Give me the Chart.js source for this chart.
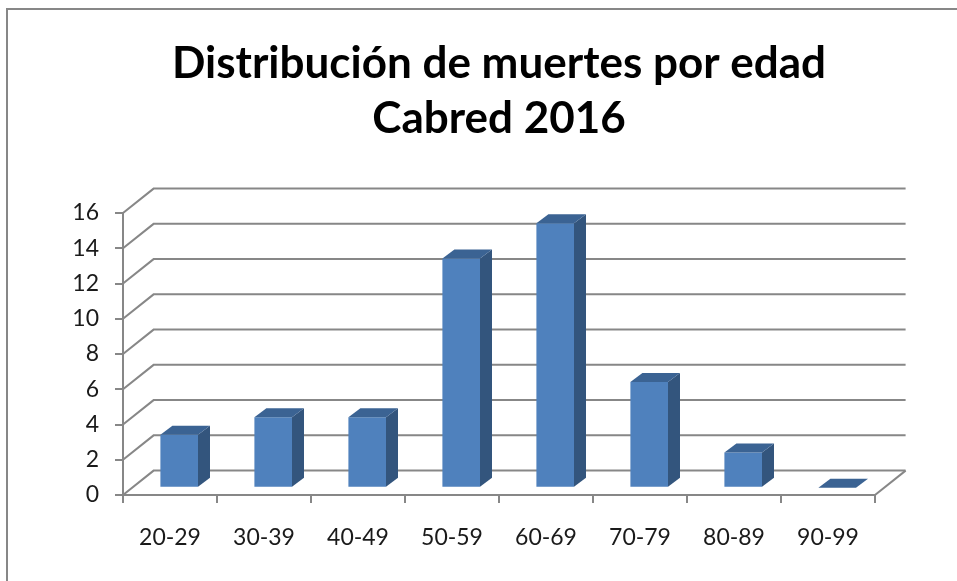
<!DOCTYPE html>
<html>
<head>
<meta charset="utf-8">
<script src="https://cdn.jsdelivr.net/npm/chart.js@4/dist/chart.umd.min.js"></script>
<style>
  body { margin: 0; background: #fff; }
  #wrap { width: 957px; height: 581px; }
</style>
</head>
<body>
<div id="wrap"><canvas id="muertes" width="957" height="581"></canvas></div>
<script>
// data
var edades = ['20-29', '30-39', '40-49', '50-59', '60-69', '70-79', '80-89', '90-99'];
var muertes = [3, 4, 4, 13, 15, 6, 2, 0];
var titulo = ['Distribución de muertes por edad', 'Cabred 2016'];
var yMax = 16;
var yPaso = 2;

// 3d look: depth of the walls and of the bars
var fondo = { x: 30.6, y: -24.4 };
var frente = { x: 9.2, y: -7.3 };
var prof = { x: 12, y: -9 };
var gris = '#878787';

var tresD = {
	id: 'tresD',
	beforeDraw: function(chart) {
		var ctx = chart.ctx;
		ctx.save();
		ctx.fillStyle = '#fff';
		ctx.fillRect(0, 0, chart.width, chart.height);
		ctx.strokeStyle = gris;
		ctx.lineWidth = 2;
		ctx.strokeRect(7, 9, 1200, 1200);
		ctx.restore();
	},
	beforeDatasetsDraw: function(chart) {
		var ctx = chart.ctx;
		var a = chart.chartArea;
		var y = chart.scales.y;
		ctx.save();
		ctx.strokeStyle = gris;
		ctx.lineWidth = 2;
		// side wall + back wall grid lines
		for (var v = 0; v <= yMax; v += yPaso) {
			var py = y.getPixelForValue(v);
			ctx.beginPath();
			ctx.moveTo(a.left, py);
			ctx.lineTo(a.left + fondo.x, py + fondo.y);
			ctx.lineTo(a.right + fondo.x, py + fondo.y);
			ctx.stroke();
		}
		// right edge of the floor
		var p0 = y.getPixelForValue(0);
		ctx.beginPath();
		ctx.moveTo(a.right, p0);
		ctx.lineTo(a.right + fondo.x, p0 + fondo.y);
		ctx.stroke();
		ctx.restore();

		// bars sit a bit behind the front plane
		ctx.save();
		ctx.translate(frente.x, frente.y);
	},
	afterDatasetsDraw: function(chart) {
		var ctx = chart.ctx;
		var meta = chart.getDatasetMeta(0);
		meta.data.forEach(function(bar) {
			var p = bar.getProps(['x', 'y', 'base', 'width'], true);
			var l = p.x - p.width / 2;
			var r = p.x + p.width / 2;
			// side
			ctx.fillStyle = '#33557d';
			ctx.beginPath();
			ctx.moveTo(r, p.y);
			ctx.lineTo(r + prof.x, p.y + prof.y);
			ctx.lineTo(r + prof.x, p.base + prof.y);
			ctx.lineTo(r, p.base);
			ctx.closePath();
			ctx.fill();
			// top
			ctx.fillStyle = '#3b6393';
			ctx.beginPath();
			ctx.moveTo(l, p.y);
			ctx.lineTo(l + prof.x, p.y + prof.y);
			ctx.lineTo(r + prof.x, p.y + prof.y);
			ctx.lineTo(r, p.y);
			ctx.closePath();
			ctx.fill();
		});
		ctx.restore();
	}
};

Chart.defaults.font.family = 'Lato';
Chart.defaults.color = '#1a1a1a';

var ctx = document.getElementById('muertes').getContext('2d');
var chart = new Chart(ctx, {
	type: 'bar',
	data: {
		labels: edades,
		datasets: [{
			data: muertes,
			backgroundColor: '#4f81bd',
			borderWidth: 0,
			categoryPercentage: 1,
			barPercentage: 0.4,
			clip: false
		}]
	},
	options: {
		responsive: false,
		devicePixelRatio: 1,
		animation: false,
		layout: { padding: { left: 0, right: 82, top: 0, bottom: 0 } },
		plugins: {
			legend: { display: false },
			tooltip: { enabled: false },
			title: {
				display: true,
				fullSize: false,
				text: titulo,
				color: '#000',
				font: { size: 44, weight: 'bold', lineHeight: 1.25 },
				padding: { top: 36, bottom: 67 }
			}
		},
		scales: {
			x: {
				offset: true,
				grid: { offset: true, drawOnChartArea: false, tickLength: 8, color: gris, lineWidth: 2 },
				border: { color: gris, width: 2 },
				ticks: { font: { size: 23 }, padding: 21 },
				afterFit: function(s) { s.height = 86; }
			},
			y: {
				min: 0,
				max: yMax,
				ticks: { stepSize: yPaso, font: { size: 23 }, padding: 16 },
				grid: { drawOnChartArea: false, tickLength: 8, color: gris, lineWidth: 2 },
				border: { color: gris, width: 2 },
				afterFit: function(s) { s.width = 123; }
			}
		}
	},
	plugins: [tresD]
});
</script>
</body>
</html>
